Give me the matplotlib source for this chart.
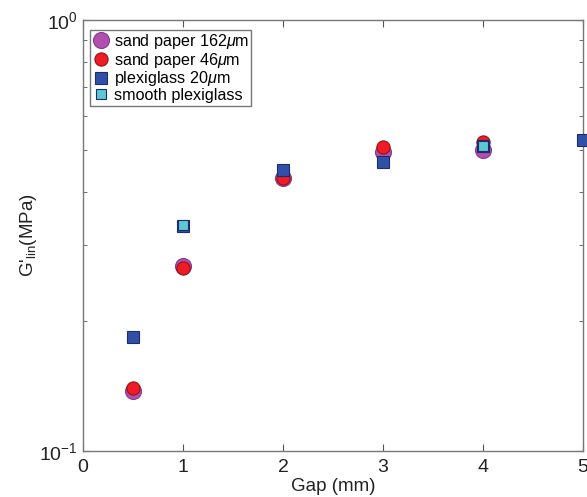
import numpy as np
import matplotlib.pyplot as plt
from matplotlib.ticker import LogLocator, NullFormatter

plt.rcParams['font.family'] = ['Liberation Sans', 'DejaVu Sans']
plt.rcParams['mathtext.fontset'] = 'custom'
plt.rcParams['mathtext.rm'] = 'Liberation Sans'
plt.rcParams['mathtext.it'] = 'Liberation Sans:italic'

# G'_lin (MPa) versus gap (mm)
gap_sp162 = [0.5, 1, 2, 3, 4]
g_sp162 = [0.138, 0.269, 0.431, 0.495, 0.499]

gap_sp46 = [0.5, 1, 2, 3, 4]
g_sp46 = [0.140, 0.266, 0.430, 0.508, 0.522]

gap_pg20 = [0.5, 1, 2, 3, 4, 5]
g_pg20 = [0.184, 0.333, 0.449, 0.469, 0.510, 0.527]

gap_smooth = [1, 4]
g_smooth = [0.334, 0.510]

fig = plt.figure(figsize=(5.87, 4.97), dpi=100)
ax = fig.add_axes([83 / 587, 46 / 497, 500 / 587, 431 / 497])

ax.plot(gap_sp162, g_sp162, 'o', ms=11.5, mfc='#b04fb0', mec='#8a3a8a', mew=0.8,
        label=r'sand paper 162$\mu$m', clip_on=False, zorder=3)
ax.plot(gap_sp46, g_sp46, 'o', ms=9.5, mfc='#ee1c24', mec='#9a1010', mew=0.8,
        label=r'sand paper 46$\mu$m', clip_on=False, zorder=4)
ax.plot(gap_pg20, g_pg20, 's', ms=9, mfc='#3050a8', mec='#1c2c70', mew=0.8,
        label=r'plexiglass 20$\mu$m', clip_on=False, zorder=5)
ax.plot(gap_smooth, g_smooth, 's', ms=6.5, mfc='#5cc8d0', mec='#1c2c70', mew=0.8,
        label='smooth plexiglass', clip_on=False, zorder=6)

ax.set_yscale('log')
ax.set_xlim(0, 5)
ax.set_ylim(0.1, 1)
ax.set_xticks([0, 1, 2, 3, 4, 5])
ax.yaxis.set_major_locator(LogLocator(base=10, numticks=5))
ax.yaxis.set_minor_locator(LogLocator(base=10, subs=np.arange(2, 10), numticks=10))
ax.yaxis.set_minor_formatter(NullFormatter())

ax.tick_params(which='both', direction='in', top=True, right=True, colors='#555555',
               labelcolor='#222222', labelsize=14)
ax.tick_params(axis='x', pad=6)
ax.tick_params(which='major', length=5)
ax.tick_params(which='minor', length=3)
for sp in ax.spines.values():
    sp.set_color('#777777')
    sp.set_linewidth(1.0)

ax.set_xlabel('Gap (mm)', fontsize=13.5, labelpad=1, color='#222222')
ax.set_ylabel(r"G'$_{\rm lin}$(MPa)", fontsize=13.5, labelpad=0, color='#222222')

leg = ax.legend(loc='upper left', bbox_to_anchor=(0.008, 0.985), fontsize=11.6,
                frameon=True, fancybox=False, edgecolor='#555555',
                handletextpad=0.3, handlelength=1.0, borderpad=0.15,
                labelspacing=-0.02, borderaxespad=0.2)
leg.get_frame().set_linewidth(1.0)

fig.savefig('out.png', dpi=100)
